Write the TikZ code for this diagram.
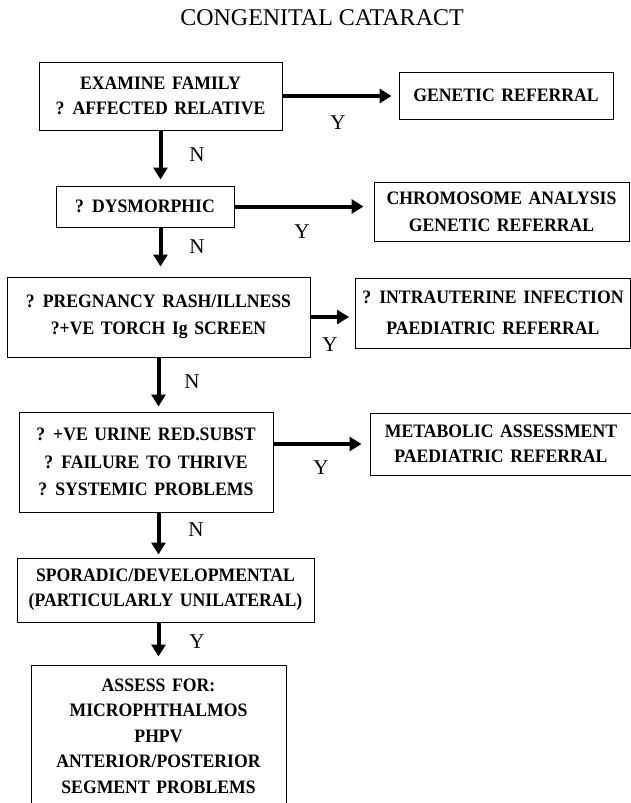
\documentclass[tikz,border=0pt]{standalone}
\usepackage{fontspec}
\setmainfont{Liberation Serif}
\newfontfamily\boxfont{Liberation Serif}[FakeStretch=0.93,WordSpace=1.5]
\usetikzlibrary{arrows.meta}

\begin{document}
\begin{tikzpicture}[x=1pt,y=-1pt,
  box/.style={draw,line width=1pt,align=center,inner sep=0pt,font=\boxfont\bfseries\fontsize{19}{25}\selectfont},
  arr/.style={line width=4pt,-{Triangle[length=12pt,width=14pt]}},
  lab/.style={font=\fontsize{21}{21}\selectfont}]
\useasboundingbox (0,0) rectangle (630,803);
\node[font=\fontsize{24}{24}\selectfont] (T) at (322,18) {CONGENITAL CATARACT};
\node[box,minimum width=243pt,minimum height=68pt] (E) at (160.5,96) {EXAMINE FAMILY\\? AFFECTED RELATIVE};
\node[box,minimum width=214pt,minimum height=47pt] (G) at (506,95.5) {GENETIC REFERRAL};
\node[box,minimum width=178pt,minimum height=41pt] (D) at (145,206.5) {? DYSMORPHIC};
\node[box,minimum width=255pt,minimum height=59pt,font=\boxfont\bfseries\fontsize{19}{27}\selectfont] (C) at (501.5,211.5) {CHROMOSOME ANALYSIS\\GENETIC REFERRAL};
\node[box,minimum width=303pt,minimum height=80pt,font=\boxfont\bfseries\fontsize{19}{27}\selectfont] (P) at (158.5,317) {? PREGNANCY RASH/ILLNESS\\?+VE TORCH Ig SCREEN};
\node[box,minimum width=275pt,minimum height=70pt,font=\boxfont\bfseries\fontsize{19}{31}\selectfont] (I) at (493,313) {? INTRAUTERINE INFECTION\\PAEDIATRIC REFERRAL};
\node[box,minimum width=254pt,minimum height=100pt,font=\boxfont\bfseries\fontsize{19}{27.5}\selectfont] (U) at (146,462) {? +VE URINE RED.SUBST\\? FAILURE TO THRIVE\\? SYSTEMIC PROBLEMS};
\node[box,minimum width=262pt,minimum height=62pt] (M) at (501,444) {METABOLIC ASSESSMENT\\PAEDIATRIC REFERRAL};
\node[box,minimum width=297pt,minimum height=64pt] (S) at (165.5,590) {SPORADIC/DEVELOPMENTAL\\(PARTICULARLY UNILATERAL)};
\node[box,minimum width=255pt,minimum height=142pt,font=\boxfont\bfseries\fontsize{19}{25.5}\selectfont] (A) at (158.5,736) {ASSESS FOR:\\MICROPHTHALMOS\\PHPV\\ANTERIOR/POSTERIOR\\SEGMENT PROBLEMS};
\draw[arr,shorten >=7pt] (E.east) -- (E.east -| G.west);
\draw[arr,shorten >=10pt] (D.east) -- (D.east -| C.west);
\draw[arr,shorten >=6pt] (P.east) -- (P.east -| I.west);
\draw[arr,shorten >=8pt] (M.west -| U.east) -- (M.west);
\draw[arr,shorten >=6pt] (E.south) -- (E.south |- D.north);
\draw[arr,shorten >=10pt] (E.south |- D.south) -- (E.south |- P.north);
\draw[arr,shorten >=5pt] (P.south) -- (P.south |- U.north);
\draw[arr,shorten >=3pt] (P.south |- U.south) -- (P.south |- S.north);
\draw[arr,shorten >=8pt] (P.south |- S.south) -- (P.south |- A.north);
\node[lab] (Y1) at (338,123) {Y};
\node[lab] (Y2) at (302,232) {Y};
\node[lab] (Y3) at (330,345) {Y};
\node[lab] (Y4) at (321,468) {Y};
\node[lab] (Y5) at (197,642) {Y};
\node[lab] (N1) at (197,155) {N};
\node[lab] (N2) at (197,247) {N};
\node[lab] (N3) at (192,382) {N};
\node[lab] (N4) at (196,530) {N};
\end{tikzpicture}
\end{document}
